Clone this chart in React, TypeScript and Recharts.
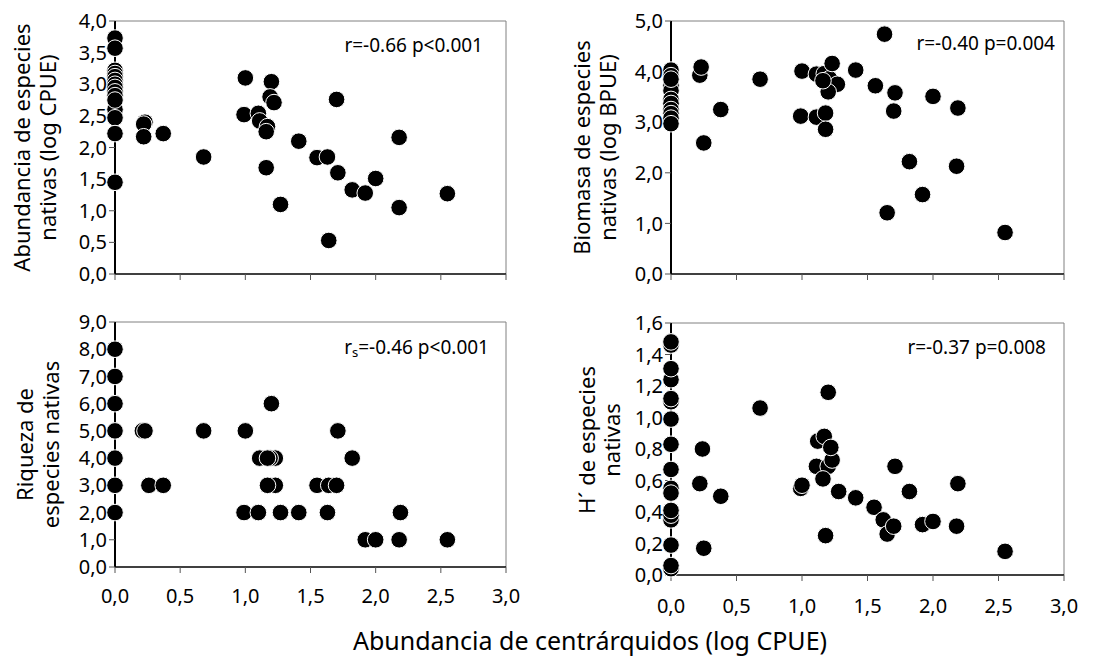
import React from 'react';
import { ScatterChart, Scatter, XAxis, YAxis, ReferenceLine, Label } from 'recharts';

const FONT = "'Noto Sans', 'DejaVu Sans', sans-serif";

// Shared x axis: Abundancia de centrárquidos (log CPUE)
const X_TICKS = [0, 0.5, 1, 1.5, 2, 2.5, 3];

// Panel A: Abundancia de especies nativas (log CPUE)
const abundX = [0, 0, 0, 0, 0, 0, 0, 0, 0, 0, 0, 0, 0, 0, 0,
  0.23, 0.22, 0.22, 0.37, 0.68, 1.0, 0.99, 1.1, 1.11, 1.17, 1.16, 1.2, 1.19, 1.22, 1.16,
  1.27, 1.41, 1.55, 1.63, 1.7, 1.64, 1.71, 1.82, 1.92, 2.0, 2.18, 2.18, 2.55];
const abundY = [3.22, 3.17, 3.12, 3.06, 3.0, 2.95, 2.88, 2.82, 2.6, 2.47, 2.75, 2.22, 1.45, 3.73, 3.57,
  2.4, 2.37, 2.17, 2.22, 1.85, 3.1, 2.52, 2.54, 2.42, 2.33, 2.25, 3.04, 2.8, 2.71, 1.68,
  1.1, 2.1, 1.84, 1.85, 2.76, 0.53, 1.6, 1.33, 1.28, 1.51, 2.16, 1.05, 1.27];
const abundTicks = [0, 0.5, 1, 1.5, 2, 2.5, 3, 3.5, 4];

// Panel B: Biomasa de especies nativas (log BPUE)
const bioX = [0, 0, 0, 0, 0, 0, 0, 0, 0, 0, 0,
  0.22, 0.23, 0.25, 0.38, 0.68, 1.0, 0.99, 1.11, 1.11, 1.17, 1.21, 1.23, 1.27, 1.2, 1.18,
  1.18, 1.16, 1.41, 1.56, 1.63, 1.65, 1.71, 1.7, 1.82, 1.92, 2.0, 2.19, 2.18, 2.55];
const bioY = [4.03, 3.92, 3.72, 3.62, 3.45, 3.37, 3.25, 3.17, 3.08, 2.97, 3.85,
  3.93, 4.09, 2.59, 3.25, 3.85, 4.01, 3.12, 3.1, 3.95, 3.96, 3.86, 4.16, 3.75, 3.6, 3.18,
  2.86, 3.82, 4.03, 3.72, 4.74, 1.21, 3.58, 3.22, 2.22, 1.57, 3.51, 3.28, 2.13, 0.82];
const bioTicks = [0, 1, 2, 3, 4, 5];

// Panel C: Riqueza de especies nativas
const richX = [0, 0, 0, 0, 0, 0, 0,
  0.21, 0.23, 0.26, 0.37, 0.68, 1.0, 0.99, 1.1, 1.11, 1.23, 1.19, 1.17, 1.2, 1.23, 1.17,
  1.27, 1.41, 1.55, 1.64, 1.7, 1.63, 1.71, 1.82, 1.92, 2.0, 2.18, 2.19, 2.55];
const richY = [2, 3, 4, 5, 6, 7, 8,
  5, 5, 3, 3, 5, 5, 2, 2, 4, 4, 4, 4, 6, 3, 3,
  2, 2, 3, 3, 3, 2, 5, 4, 1, 1, 1, 2, 1];
const richTicks = [0, 1, 2, 3, 4, 5, 6, 7, 8, 9];

// Panel D: H' de especies nativas
const divX = [0, 0, 0, 0, 0, 0, 0, 0, 0, 0, 0, 0, 0, 0, 0, 0, 0,
  0.22, 0.24, 0.25, 0.38, 0.68, 0.99, 1.0, 1.11, 1.12, 1.17, 1.2, 1.23, 1.22, 1.2, 1.16,
  1.18, 1.28, 1.41, 1.55, 1.62, 1.65, 1.7, 1.71, 1.82, 1.92, 2.0, 2.18, 2.19, 2.55];
const divY = [1.46, 1.48, 1.24, 1.31, 1.1, 1.12, 0.99, 0.83, 0.67, 0.55, 0.52, 0.35, 0.38, 0.41, 0.19, 0.04, 0.06,
  0.58, 0.8, 0.17, 0.5, 1.06, 0.55, 0.57, 0.69, 0.85, 0.88, 0.69, 0.73, 0.81, 1.16, 0.61,
  0.25, 0.53, 0.49, 0.43, 0.35, 0.26, 0.31, 0.69, 0.53, 0.32, 0.34, 0.31, 0.58, 0.15];
const divTicks = [0, 0.2, 0.4, 0.6, 0.8, 1.0, 1.2, 1.4, 1.6];

const zip = (xs: number[], ys: number[]) => xs.map((x, i) => ({ x, y: ys[i] }));

const fmt = (v: number) => v.toFixed(1).replace('.', ',');

const Dot = (props: any) => {
  const { cx, cy } = props;
  if (cx == null || cy == null) return null;
  return <circle cx={cx} cy={cy} r={8.3} fill="#000" stroke="#fff" strokeWidth={1} />;
};

type PanelProps = {
  left: number; top: number; width: number; height: number;
  margin: { top: number; right: number; bottom: number; left: number };
  xHeight: number; showXLabels: boolean; xTickMargin: number;
  yTicks: number[]; data: { x: number; y: number }[];
  titleLines: string[]; titleXs: number[]; titleDy: number;
  annot: React.ReactNode; annotRight: number; annotDy: number;
};

function Panel(p: PanelProps) {
  const yMax = p.yTicks[p.yTicks.length - 1];
  const renderTitle = (lp: any) => {
    const vb = lp.viewBox || {};
    const cy = (vb.y ?? 0) + (vb.height ?? 0) / 2 + p.titleDy;
    return (
      <g>
        {p.titleLines.map((t, i) => (
          <text key={i} x={p.titleXs[i]} y={cy} transform={`rotate(-90 ${p.titleXs[i]} ${cy})`}
            textAnchor="middle" dominantBaseline="central" fontSize={22} fontFamily={FONT} fill="#000">{t}</text>
        ))}
      </g>
    );
  };
  const renderAnnot = (lp: any) => {
    const vb = lp.viewBox || {};
    const x = (vb.x ?? 0) + (vb.width ?? 0) - p.annotRight;
    const y = (vb.y ?? 0) + p.annotDy;
    return (
      <text x={x} y={y} textAnchor="end" dominantBaseline="central" fontSize={19} fontFamily={FONT} fill="#000">{p.annot}</text>
    );
  };
  return (
    <div style={{ position: 'absolute', left: p.left, top: p.top, width: p.width, height: p.height }}>
      <ScatterChart width={p.width} height={p.height} margin={p.margin}>
        <XAxis type="number" dataKey="x" domain={[0, 3]} ticks={X_TICKS} interval={0}
          height={p.xHeight} tickSize={6} tickMargin={p.xTickMargin}
          tickFormatter={(v: number) => (p.showXLabels ? fmt(v) : '')}
          axisLine={{ stroke: '#000', strokeWidth: 1.5 }} tickLine={{ stroke: '#555' }}
          tick={{ fill: '#000', fontSize: 20, fontFamily: FONT }} />
        <YAxis type="number" dataKey="y" domain={[0, yMax]} ticks={p.yTicks} interval={0}
          width={100} tickSize={6} tickMargin={2} tickFormatter={fmt}
          axisLine={{ stroke: '#000', strokeWidth: 2 }} tickLine={{ stroke: '#555' }}
          tick={{ fill: '#000', fontSize: 20, fontFamily: FONT }}>
          <Label content={renderTitle} />
        </YAxis>
        <ReferenceLine x={3} stroke="#808080" strokeWidth={1} />
        <ReferenceLine y={yMax} stroke="#808080" strokeWidth={1}>
          <Label content={renderAnnot} />
        </ReferenceLine>
        <Scatter data={p.data} shape={Dot} isAnimationActive={false} />
      </ScatterChart>
    </div>
  );
}

export default function App() {
  return (
    <div style={{ position: 'absolute', left: 0, top: 0, width: 1115, height: 657, background: '#fff', overflow: 'hidden' }}>
      <Panel left={0} top={0} width={560} height={300}
        margin={{ top: 21, right: 54, bottom: 6, left: 15 }} xHeight={20} showXLabels={false} xTickMargin={4}
        yTicks={abundTicks} data={zip(abundX, abundY)}
        titleLines={['Abundancia de especies', 'nativas (log CPUE)']} titleXs={[21, 47]} titleDy={0}
        annot="r=-0.66 p<0.001" annotRight={23} annotDy={24} />
      <Panel left={560} top={0} width={555} height={300}
        margin={{ top: 21, right: 51, bottom: 6, left: 11 }} xHeight={20} showXLabels={false} xTickMargin={4}
        yTicks={bioTicks} data={zip(bioX, bioY)}
        titleLines={['Biomasa de especies', 'nativas (log BPUE)']} titleXs={[21, 47]} titleDy={0}
        annot="r=-0.40 p=0.004" annotRight={9} annotDy={22} />
      <Panel left={0} top={300} width={560} height={357}
        margin={{ top: 22, right: 54, bottom: 50, left: 15 }} xHeight={40} showXLabels={true} xTickMargin={16}
        yTicks={richTicks} data={zip(richX, richY)}
        titleLines={['Riqueza de', 'especies nativas']} titleXs={[24, 50]} titleDy={0}
        annot={<><tspan>r</tspan><tspan dy={5} fontSize={13}>s</tspan><tspan dy={-5}>=-0.46 p&lt;0.001</tspan></>}
        annotRight={17} annotDy={25} />
      <Panel left={560} top={300} width={555} height={357}
        margin={{ top: 23, right: 51, bottom: 42, left: 11 }} xHeight={40} showXLabels={true} xTickMargin={18}
        yTicks={divTicks} data={zip(divX, divY)}
        titleLines={['H´ de especies', 'nativas']} titleXs={[26, 51]} titleDy={-9}
        annot="r=-0.37 p=0.008" annotRight={18} annotDy={24} />
      <svg style={{ position: 'absolute', left: 0, top: 615 }} width={1115} height={42}>
        <text x={590} y={25} textAnchor="middle" dominantBaseline="central" fontSize={25} fontFamily={FONT} fill="#000">
          Abundancia de centrárquidos (log CPUE)
        </text>
      </svg>
    </div>
  );
}
